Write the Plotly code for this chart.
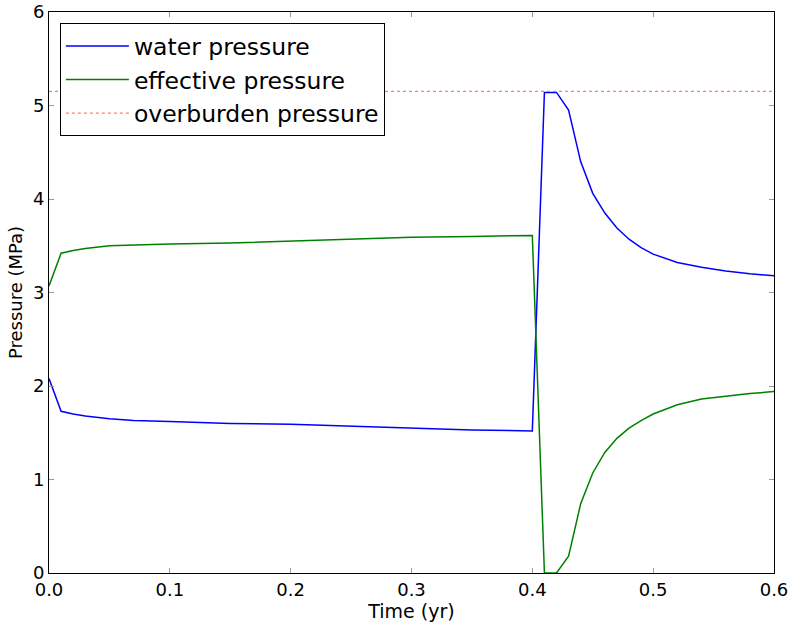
import plotly.graph_objects as go

time = [0.0, 0.01, 0.02, 0.03, 0.05, 0.07, 0.1, 0.15, 0.2, 0.25, 0.3, 0.35, 0.4,
        0.41, 0.42, 0.43, 0.44, 0.45, 0.46, 0.47, 0.48, 0.49, 0.5, 0.52, 0.54, 0.56, 0.58, 0.6]
water_pressure = [2.08, 1.73, 1.70, 1.68, 1.65, 1.63, 1.62, 1.60, 1.59, 1.57, 1.55, 1.53, 1.52,
                  5.14, 5.14, 4.95, 4.40, 4.06, 3.85, 3.69, 3.57, 3.48, 3.41, 3.32, 3.27, 3.23, 3.20, 3.18]
effective_pressure = [3.07, 3.42, 3.45, 3.47, 3.50, 3.51, 3.52, 3.53, 3.55, 3.57, 3.59, 3.60, 3.61,
                      0.0, 0.0, 0.18, 0.74, 1.07, 1.29, 1.44, 1.55, 1.63, 1.70, 1.80, 1.86, 1.89, 1.92, 1.94]
overburden_time = [0.0, 0.6]
overburden_pressure = [5.15, 5.15]

x_ticks = [0.0, 0.1, 0.2, 0.3, 0.4, 0.5, 0.6]
y_ticks = [0, 1, 2, 3, 4, 5, 6]

font = "DejaVu Sans"

fig = go.Figure()
fig.add_trace(go.Scatter(x=time, y=water_pressure, mode="lines", name="water pressure",
                         line=dict(color="#0000ff", width=1.5), legendgroup="a"))
fig.add_trace(go.Scatter(x=time, y=effective_pressure, mode="lines", name="effective pressure",
                         line=dict(color="#008000", width=1.5), legendgroup="b"))
fig.add_trace(go.Scatter(x=overburden_time, y=overburden_pressure, mode="lines", name="overburden pressure",
                         line=dict(color="#ff7a7a", width=1.2, dash="dot"), legendgroup="c"))

axis_common = dict(showline=True, linecolor="black", linewidth=1, mirror="ticks",
                   ticks="inside", ticklen=5, tickcolor="#999999", showgrid=False, zeroline=False,
                   automargin=False, ticklabeloverflow="allow",
                   tickfont=dict(family=font, size=18, color="black"))

fig.update_layout(
    width=788, height=634,
    margin=dict(l=49, r=14, t=12, b=61),
    plot_bgcolor="white", paper_bgcolor="white",
    font=dict(family=font, color="black"),
    xaxis=dict(range=[0, 0.6], tickvals=x_ticks, tickformat=".1f",
               title=dict(text="Time (yr)", font=dict(family=font, size=19), standoff=2), **axis_common),
    yaxis=dict(range=[0, 6], tickvals=y_ticks,
               title=dict(text="Pressure (MPa)", font=dict(family=font, size=18), standoff=5), **axis_common),
    legend=dict(x=0.015, y=0.98, xanchor="left", yanchor="top",
                bgcolor="white", bordercolor="black", borderwidth=1,
                font=dict(family=font, size=23.5), tracegroupgap=6,
                itemwidth=63, traceorder="normal"),
    showlegend=True,
)

fig.write_html("out.html", config={"displayModeBar": False},
               post_script="document.body.style.margin='0';")
